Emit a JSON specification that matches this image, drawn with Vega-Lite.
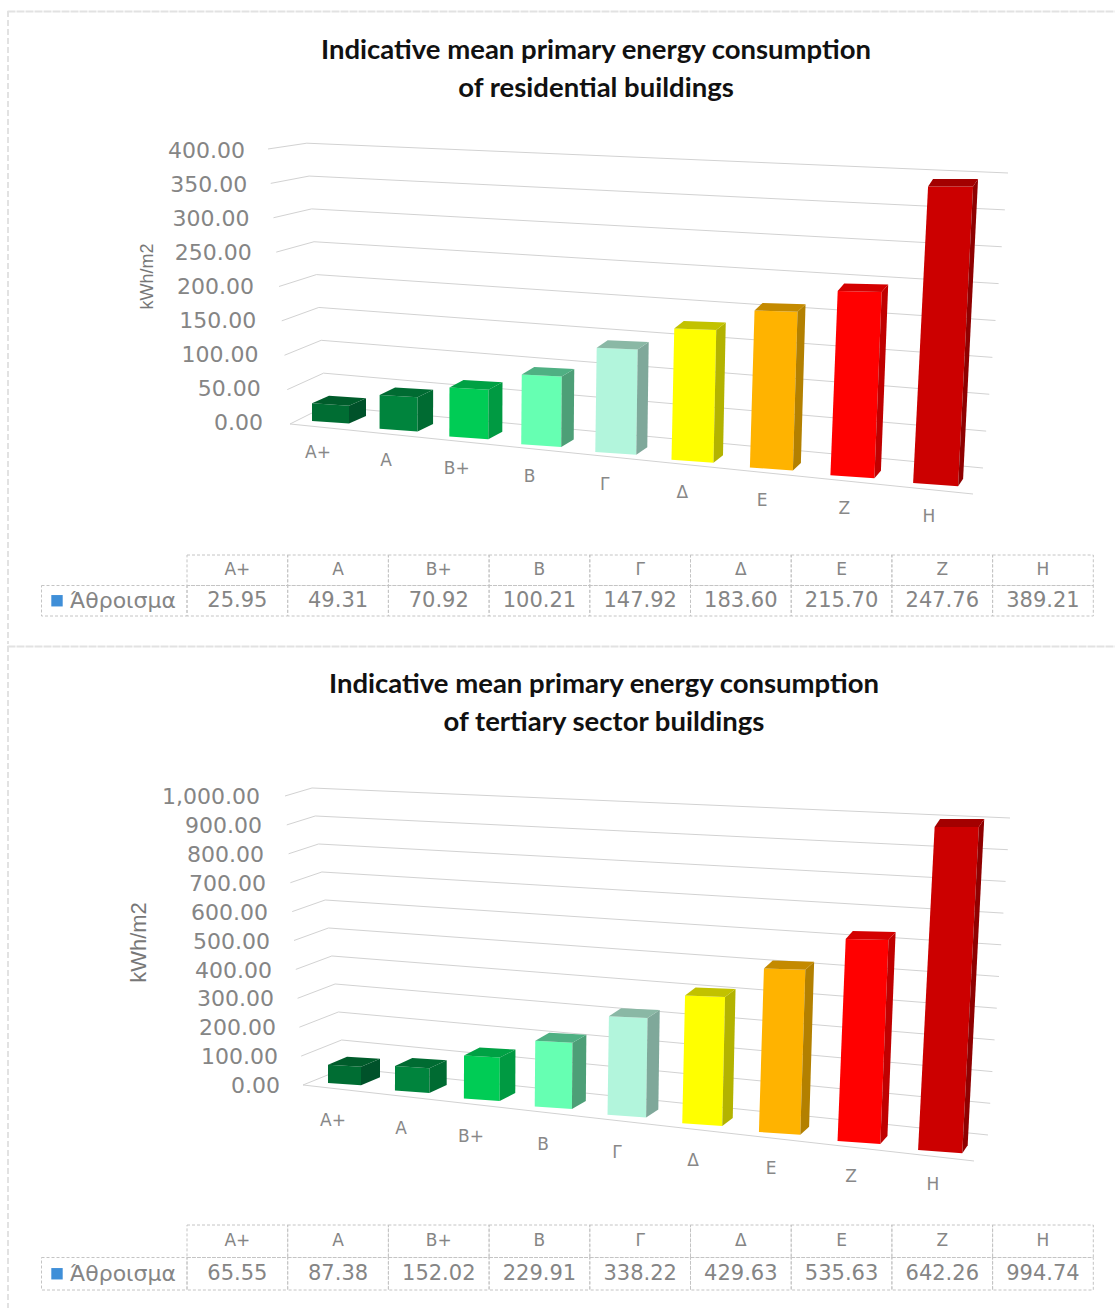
{
  "$schema": "https://vega.github.io/schema/vega-lite/v6.json",
  "padding": {"left": 7, "top": 10, "right": 0, "bottom": 0},
  "background": "white",
  "spacing": 0,
  "config": {"view": {"stroke": null}, "font": "DejaVu Sans"},
  "datasets": {
    "residential": [
      {"cat": "Α+", "value": 25.95}, {"cat": "Α", "value": 49.31}, {"cat": "Β+", "value": 70.92},
      {"cat": "Β", "value": 100.21}, {"cat": "Γ", "value": 147.92}, {"cat": "Δ", "value": 183.6},
      {"cat": "Ε", "value": 215.7}, {"cat": "Ζ", "value": 247.76}, {"cat": "Η", "value": 389.21}
    ],
    "tertiary": [
      {"cat": "Α+", "value": 65.55}, {"cat": "Α", "value": 87.38}, {"cat": "Β+", "value": 152.02},
      {"cat": "Β", "value": 229.91}, {"cat": "Γ", "value": 338.22}, {"cat": "Δ", "value": 429.63},
      {"cat": "Ε", "value": 535.63}, {"cat": "Ζ", "value": 642.26}, {"cat": "Η", "value": 994.74}
    ],
    "ticksResidential": [
      {"v": 0}, {"v": 50}, {"v": 100}, {"v": 150}, {"v": 200}, {"v": 250}, {"v": 300}, {"v": 350}, {"v": 400}
    ],
    "ticksTertiary": [
      {"v": 0}, {"v": 100}, {"v": 200}, {"v": 300}, {"v": 400}, {"v": 500}, {"v": 600}, {"v": 700}, {"v": 800}, {"v": 900}, {"v": 1000}
    ],
    "rowHeader": [{"row": "sum", "label": "Άθροισμα"}]
  },
  "vconcat": [
    {
      "width": 1108,
      "height": 633,
      "title": {
        "text": ["Indicative mean primary energy consumption", "of residential buildings"],
        "font": "Lato", "fontSize": 27.5, "fontWeight": 700, "color": "#111111",
        "anchor": "middle", "frame": "group", "dx": 35, "offset": -92, "lineHeight": 38
      },
      "layer": [
        {
          "encoding": {
            "x": {"field": "px", "type": "quantitative",
              "scale": {"domain": [7, 1115], "nice": false, "zero": false},
              "axis": {"orient": "top", "labels": false, "ticks": false, "grid": false, "title": null,
                "domainColor": "#e2e2e2", "domainWidth": 2, "domainDash": [8, 1]}},
            "y": {"field": "yv", "type": "quantitative",
              "scale": {"domain": [-325, 605.88], "nice": false, "zero": false},
              "axis": {"orient": "left", "offset": -256, "values": [0, 50, 100, 150, 200, 250, 300, 350, 400],
                "labels": false, "grid": false, "domain": false, "ticks": false,
                "title": "kWh/m2", "titleFont": "Liberation Sans", "titleFontSize": 18, "titleFontWeight": 400,
                "titleColor": "#777777", "titleX": -107, "titleY": 265, "titleAngle": -90}}
          },
          "layer": [
            {
              "data": {"name": "ticksResidential"},
              "transform": [
                {"calculate": "[0,1,2]", "as": "c"}, {"flatten": ["c"]},
                {"calculate": "[290-0.055*datum.v, 326-0.048*datum.v, 983+0.0625*datum.v][datum.c]", "as": "px"},
                {"calculate": "[423-0.6875*datum.v, 405-0.657*datum.v, 467-0.7375*datum.v][datum.c]", "as": "py"},
                {"calculate": "(422-datum.py)/0.68", "as": "yv"}
              ],
              "mark": {"type": "line", "color": "#d2d2d2", "strokeWidth": 1},
              "encoding": {"detail": {"field": "v"}, "order": {"field": "c"}}
            },
            {
              "data": {"name": "ticksResidential"},
              "transform": [
                {"filter": "datum.v==0"},
                {"calculate": "[0,1]", "as": "c"}, {"flatten": ["c"]},
                {"calculate": "[290,973][datum.c]", "as": "px"},
                {"calculate": "[423,493][datum.c]", "as": "py"},
                {"calculate": "(422-datum.py)/0.68", "as": "yv"}
              ],
              "mark": {"type": "line", "color": "#d2d2d2", "strokeWidth": 1},
              "encoding": {"order": {"field": "c"}}
            },
            {
              "data": {"name": "ticksResidential"},
              "transform": [
                {"calculate": "263-0.045*datum.v", "as": "px"},
                {"calculate": "datum.v", "as": "yv"},
                {"calculate": "format(datum.v,',.2f')", "as": "tick"}
              ],
              "mark": {"type": "text", "font": "DejaVu Sans", "fontSize": 22, "color": "#858585", "align": "right", "baseline": "middle"},
              "encoding": {"text": {"field": "tick", "type": "nominal"}}
            },
            {
              "data": {"name": "residential"},
              "transform": [
                {"calculate": "indexof(['Α+','Α','Β+','Β','Γ','Δ','Ε','Ζ','Η'],datum.cat)", "as": "i"},
                {"calculate": "[0,1,2,3,4,5,6,7,8,9,10,11]", "as": "c"}, {"flatten": ["c"]},
                {"calculate": "[0,1,1,0,1,1,1,1,0,1,1,0][datum.c]", "as": "u"},
                {"calculate": "[0,0,0,0,0,1,1,0,0,0,1,1][datum.c]", "as": "d"},
                {"calculate": "[0,0,1,1,0,0,1,1,1,1,1,1][datum.c]*datum.value", "as": "h"},
                {"calculate": "datum.cat+'|'+['front','side','top'][floor(datum.c/4)]", "as": "shade"},
                {"calculate": "312+66.5*datum.i+1.08*datum.i*datum.i+datum.u*(37+datum.i)+datum.d*(17-1.5*datum.i)+datum.h*0.0006*datum.i*datum.i", "as": "px"},
                {"calculate": "420+7.75*datum.i+datum.u*(37+datum.i)*(0.07-0.00018*datum.h)-datum.d*7.5-datum.h*(0.685+0.0012*datum.i*datum.i)", "as": "py"},
                {"calculate": "(422-datum.py)/0.68", "as": "yv"}
              ],
              "mark": {"type": "line", "interpolate": "linear-closed", "strokeWidth": 0},
              "encoding": {
                "order": {"field": "c"},
                "fill": {"field": "shade", "type": "nominal", "legend": null,
                  "scale": {
                    "domain": ["Α+|front","Α+|side","Α+|top","Α|front","Α|side","Α|top","Β+|front","Β+|side","Β+|top","Β|front","Β|side","Β|top","Γ|front","Γ|side","Γ|top","Δ|front","Δ|side","Δ|top","Ε|front","Ε|side","Ε|top","Ζ|front","Ζ|side","Ζ|top","Η|front","Η|side","Η|top"],
                    "range": ["#006d33","#00522a","#005c2b","#00843d","#006b32","#006b32","#00cc55","#009a42","#00a144","#66ffb2","#4d9f77","#4fb083","#b2f5dc","#7fa89a","#8ab8a5","#ffff00","#b3b300","#c2c200","#ffb300","#b38000","#c48a00","#ff0000","#c00000","#d40000","#cc0000","#8f0000","#a30000"]
                  }}
              }
            },
            {
              "data": {"name": "residential"},
              "transform": [
                {"calculate": "indexof(['Α+','Α','Β+','Β','Γ','Δ','Ε','Ζ','Η'],datum.cat)", "as": "i"},
                {"calculate": "318+67*datum.i+1.17*datum.i*datum.i", "as": "px"},
                {"calculate": "452+8*datum.i", "as": "py"},
                {"calculate": "(422-datum.py)/0.68", "as": "yv"}
              ],
              "mark": {"type": "text", "font": "DejaVu Sans", "fontSize": 17, "color": "#888888", "align": "center", "baseline": "middle"},
              "encoding": {"text": {"field": "cat", "type": "nominal"}}
            }
          ]
        },
        {
          "layer": [
            {
              "data": {"name": "rowHeader"},
              "mark": {"type": "rule", "color": "#e2e2e2", "strokeWidth": 2, "strokeDash": [6, 3]},
              "encoding": {"x": {"datum": 8, "type": "quantitative", "axis": null, "scale": {"domain": [7, 1115], "nice": false, "zero": false}}}
            },
            {
              "data": {"name": "residential"},
              "transform": [
                {"calculate": "indexof(['Α+','Α','Β+','Β','Γ','Δ','Ε','Ζ','Η'],datum.cat)", "as": "i"},
                {"calculate": "['head','sum']", "as": "row"}, {"flatten": ["row"]},
                {"calculate": "datum.row=='head'?datum.cat:format(datum.value,'.2f')", "as": "label"},
                {"calculate": "187+100.7*datum.i", "as": "x0"},
                {"calculate": "datum.x0+100.7", "as": "x1"},
                {"calculate": "datum.x0+50.35", "as": "xc"}
              ],
              "layer": [
                {
                  "mark": {"type": "rect", "fill": "white", "fillOpacity": 0, "stroke": "#c4c4c4", "strokeWidth": 1, "strokeDash": [3, 2]},
                  "encoding": {
                    "x": {"field": "x0", "type": "quantitative", "axis": null, "scale": {"domain": [7, 1115], "nice": false, "zero": false}},
                    "x2": {"field": "x1"},
                    "y": {"field": "row", "type": "nominal", "axis": null, "scale": {"domain": ["head", "sum"], "range": [544, 605], "paddingInner": 0, "paddingOuter": 0}}
                  }
                },
                {
                  "mark": {"type": "text", "color": "#858585", "align": "center", "baseline": "middle"},
                  "encoding": {
                    "x": {"field": "xc", "type": "quantitative", "axis": null, "scale": {"domain": [7, 1115], "nice": false, "zero": false}},
                    "y": {"field": "row", "type": "nominal", "axis": null, "scale": {"domain": ["head", "sum"], "range": [544, 605], "paddingInner": 0, "paddingOuter": 0}},
                    "text": {"field": "label", "type": "nominal"},
                    "size": {"field": "row", "type": "nominal", "legend": null, "scale": {"domain": ["head", "sum"], "range": [17, 21]}}
                  }
                }
              ]
            },
            {
              "data": {"name": "rowHeader"},
              "layer": [
                {
                  "mark": {"type": "rect", "fillOpacity": 0, "fill": "white", "stroke": "#c4c4c4", "strokeWidth": 1, "strokeDash": [3, 2]},
                  "encoding": {
                    "x": {"datum": 41.5, "type": "quantitative", "axis": null, "scale": {"domain": [7, 1115], "nice": false, "zero": false}},
                    "x2": {"datum": 187},
                    "y": {"field": "row", "type": "nominal", "axis": null, "scale": {"domain": ["head", "sum"], "range": [544, 605], "paddingInner": 0, "paddingOuter": 0}}
                  }
                },
                {
                  "mark": {"type": "point", "shape": "square", "filled": true, "size": 130, "color": "#3f8fd8", "opacity": 1},
                  "encoding": {
                    "x": {"datum": 57, "type": "quantitative", "axis": null, "scale": {"domain": [7, 1115], "nice": false, "zero": false}},
                    "y": {"field": "row", "type": "nominal", "axis": null, "scale": {"domain": ["head", "sum"], "range": [544, 605], "paddingInner": 0, "paddingOuter": 0}}
                  }
                },
                {
                  "mark": {"type": "text", "fontSize": 22, "color": "#858585", "align": "left", "baseline": "middle"},
                  "encoding": {
                    "x": {"datum": 70, "type": "quantitative", "axis": null, "scale": {"domain": [7, 1115], "nice": false, "zero": false}},
                    "y": {"field": "row", "type": "nominal", "axis": null, "scale": {"domain": ["head", "sum"], "range": [544, 605], "paddingInner": 0, "paddingOuter": 0}},
                    "text": {"field": "label", "type": "nominal"}
                  }
                }
              ]
            }
          ]
        }
      ],
      "resolve": {"scale": {"y": "independent", "size": "independent"}, "axis": {"x": "independent", "y": "independent"}}
    },
    {
      "width": 1108,
      "height": 665,
      "title": {
        "text": ["Indicative mean primary energy consumption", "of tertiary sector buildings"],
        "font": "Lato", "fontSize": 27.5, "fontWeight": 700, "color": "#111111",
        "anchor": "middle", "frame": "group", "dx": 43, "offset": -91, "lineHeight": 38
      },
      "layer": [
        {
          "encoding": {
            "x": {"field": "px", "type": "quantitative",
              "scale": {"domain": [7, 1115], "nice": false, "zero": false},
              "axis": {"orient": "top", "labels": false, "ticks": false, "grid": false, "title": null,
                "domainColor": "#e2e2e2", "domainWidth": 2, "domainDash": [8, 1]}},
            "y": {"field": "yv", "type": "quantitative",
              "scale": {"domain": [-779.9, 1525.1], "nice": false, "zero": false},
              "axis": {"orient": "left", "offset": -273, "values": [0, 100, 200, 300, 400, 500, 600, 700, 800, 900, 1000],
                "labels": false, "grid": false, "domain": false, "ticks": false,
                "title": "kWh/m2", "titleFont": "Liberation Sans", "titleFontSize": 22, "titleFontWeight": 400,
                "titleColor": "#777777", "titleX": -130, "titleY": 296, "titleAngle": -90}}
          },
          "layer": [
            {
              "data": {"name": "ticksTertiary"},
              "transform": [
                {"calculate": "[0,1,2]", "as": "c"}, {"flatten": ["c"]},
                {"calculate": "[303-0.018*datum.v, 345-0.033*datum.v, 988+0.022*datum.v][datum.c]", "as": "px"},
                {"calculate": "[1082-0.289*datum.v, 1065-0.28*datum.v, 1132-0.317*datum.v][datum.c]", "as": "py"},
                {"calculate": "(1083-datum.py)/0.2885", "as": "yv"}
              ],
              "mark": {"type": "line", "color": "#d2d2d2", "strokeWidth": 1},
              "encoding": {"detail": {"field": "v"}, "order": {"field": "c"}}
            },
            {
              "data": {"name": "ticksTertiary"},
              "transform": [
                {"filter": "datum.v==0"},
                {"calculate": "[0,1]", "as": "c"}, {"flatten": ["c"]},
                {"calculate": "[303,974][datum.c]", "as": "px"},
                {"calculate": "[1082,1158][datum.c]", "as": "py"},
                {"calculate": "(1083-datum.py)/0.2885", "as": "yv"}
              ],
              "mark": {"type": "line", "color": "#d2d2d2", "strokeWidth": 1},
              "encoding": {"order": {"field": "c"}}
            },
            {
              "data": {"name": "ticksTertiary"},
              "transform": [
                {"calculate": "280-0.02*datum.v", "as": "px"},
                {"calculate": "datum.v", "as": "yv"},
                {"calculate": "format(datum.v,',.2f')", "as": "tick"}
              ],
              "mark": {"type": "text", "font": "DejaVu Sans", "fontSize": 22, "color": "#858585", "align": "right", "baseline": "middle"},
              "encoding": {"text": {"field": "tick", "type": "nominal"}}
            },
            {
              "data": {"name": "tertiary"},
              "transform": [
                {"calculate": "indexof(['Α+','Α','Β+','Β','Γ','Δ','Ε','Ζ','Η'],datum.cat)", "as": "i"},
                {"calculate": "[0,1,2,3,4,5,6,7,8,9,10,11]", "as": "c"}, {"flatten": ["c"]},
                {"calculate": "[0,1,1,0,1,1,1,1,0,1,1,0][datum.c]", "as": "u"},
                {"calculate": "[0,0,0,0,0,1,1,0,0,0,1,1][datum.c]", "as": "d"},
                {"calculate": "[0,0,1,1,0,0,1,1,1,1,1,1][datum.c]*datum.value", "as": "h"},
                {"calculate": "datum.cat+'|'+['front','side','top'][floor(datum.c/4)]", "as": "shade"},
                {"calculate": "328+66*datum.i+0.97*datum.i*datum.i+datum.u*(33+1.4*datum.i)+datum.d*(19-1.7*datum.i)+datum.h*0.00026*datum.i*datum.i", "as": "px"},
                {"calculate": "1080+7.5*datum.i+0.11*datum.i*datum.i+datum.u*(33+1.4*datum.i)*(0.07-0.00007*datum.h)-datum.d*8-datum.h*(0.28+0.0007*datum.i*datum.i)", "as": "py"},
                {"calculate": "(1083-datum.py)/0.2885", "as": "yv"}
              ],
              "mark": {"type": "line", "interpolate": "linear-closed", "strokeWidth": 0},
              "encoding": {
                "order": {"field": "c"},
                "fill": {"field": "shade", "type": "nominal", "legend": null,
                  "scale": {
                    "domain": ["Α+|front","Α+|side","Α+|top","Α|front","Α|side","Α|top","Β+|front","Β+|side","Β+|top","Β|front","Β|side","Β|top","Γ|front","Γ|side","Γ|top","Δ|front","Δ|side","Δ|top","Ε|front","Ε|side","Ε|top","Ζ|front","Ζ|side","Ζ|top","Η|front","Η|side","Η|top"],
                    "range": ["#006d33","#00522a","#005c2b","#00843d","#006b32","#006b32","#00cc55","#009a42","#00a144","#66ffb2","#4d9f77","#4fb083","#b2f5dc","#7fa89a","#8ab8a5","#ffff00","#b3b300","#c2c200","#ffb300","#b38000","#c48a00","#ff0000","#c00000","#d40000","#cc0000","#8f0000","#a30000"]
                  }}
              }
            },
            {
              "data": {"name": "tertiary"},
              "transform": [
                {"calculate": "indexof(['Α+','Α','Β+','Β','Γ','Δ','Ε','Ζ','Η'],datum.cat)", "as": "i"},
                {"calculate": "333+67*datum.i+datum.i*datum.i", "as": "px"},
                {"calculate": "1118+8*datum.i", "as": "py"},
                {"calculate": "(1083-datum.py)/0.2885", "as": "yv"}
              ],
              "mark": {"type": "text", "font": "DejaVu Sans", "fontSize": 17, "color": "#888888", "align": "center", "baseline": "middle"},
              "encoding": {"text": {"field": "cat", "type": "nominal"}}
            }
          ]
        },
        {
          "layer": [
            {
              "data": {"name": "rowHeader"},
              "mark": {"type": "rule", "color": "#e2e2e2", "strokeWidth": 2, "strokeDash": [6, 3]},
              "encoding": {"x": {"datum": 8, "type": "quantitative", "axis": null, "scale": {"domain": [7, 1115], "nice": false, "zero": false}}}
            },
            {
              "data": {"name": "tertiary"},
              "transform": [
                {"calculate": "indexof(['Α+','Α','Β+','Β','Γ','Δ','Ε','Ζ','Η'],datum.cat)", "as": "i"},
                {"calculate": "['head','sum']", "as": "row"}, {"flatten": ["row"]},
                {"calculate": "datum.row=='head'?datum.cat:format(datum.value,'.2f')", "as": "label"},
                {"calculate": "187+100.7*datum.i", "as": "x0"},
                {"calculate": "datum.x0+100.7", "as": "x1"},
                {"calculate": "datum.x0+50.35", "as": "xc"}
              ],
              "layer": [
                {
                  "mark": {"type": "rect", "fill": "white", "fillOpacity": 0, "stroke": "#c4c4c4", "strokeWidth": 1, "strokeDash": [3, 2]},
                  "encoding": {
                    "x": {"field": "x0", "type": "quantitative", "axis": null, "scale": {"domain": [7, 1115], "nice": false, "zero": false}},
                    "x2": {"field": "x1"},
                    "y": {"field": "row", "type": "nominal", "axis": null, "scale": {"domain": ["head", "sum"], "range": [579, 644], "paddingInner": 0, "paddingOuter": 0}}
                  }
                },
                {
                  "mark": {"type": "text", "color": "#858585", "align": "center", "baseline": "middle"},
                  "encoding": {
                    "x": {"field": "xc", "type": "quantitative", "axis": null, "scale": {"domain": [7, 1115], "nice": false, "zero": false}},
                    "y": {"field": "row", "type": "nominal", "axis": null, "scale": {"domain": ["head", "sum"], "range": [579, 644], "paddingInner": 0, "paddingOuter": 0}},
                    "text": {"field": "label", "type": "nominal"},
                    "size": {"field": "row", "type": "nominal", "legend": null, "scale": {"domain": ["head", "sum"], "range": [17, 21]}}
                  }
                }
              ]
            },
            {
              "data": {"name": "rowHeader"},
              "layer": [
                {
                  "mark": {"type": "rect", "fillOpacity": 0, "fill": "white", "stroke": "#c4c4c4", "strokeWidth": 1, "strokeDash": [3, 2]},
                  "encoding": {
                    "x": {"datum": 41.5, "type": "quantitative", "axis": null, "scale": {"domain": [7, 1115], "nice": false, "zero": false}},
                    "x2": {"datum": 187},
                    "y": {"field": "row", "type": "nominal", "axis": null, "scale": {"domain": ["head", "sum"], "range": [579, 644], "paddingInner": 0, "paddingOuter": 0}}
                  }
                },
                {
                  "mark": {"type": "point", "shape": "square", "filled": true, "size": 130, "color": "#3f8fd8", "opacity": 1},
                  "encoding": {
                    "x": {"datum": 57, "type": "quantitative", "axis": null, "scale": {"domain": [7, 1115], "nice": false, "zero": false}},
                    "y": {"field": "row", "type": "nominal", "axis": null, "scale": {"domain": ["head", "sum"], "range": [579, 644], "paddingInner": 0, "paddingOuter": 0}}
                  }
                },
                {
                  "mark": {"type": "text", "fontSize": 22, "color": "#858585", "align": "left", "baseline": "middle"},
                  "encoding": {
                    "x": {"datum": 70, "type": "quantitative", "axis": null, "scale": {"domain": [7, 1115], "nice": false, "zero": false}},
                    "y": {"field": "row", "type": "nominal", "axis": null, "scale": {"domain": ["head", "sum"], "range": [579, 644], "paddingInner": 0, "paddingOuter": 0}},
                    "text": {"field": "label", "type": "nominal"}
                  }
                }
              ]
            }
          ]
        }
      ],
      "resolve": {"scale": {"y": "independent", "size": "independent"}, "axis": {"x": "independent", "y": "independent"}}
    }
  ]
}
